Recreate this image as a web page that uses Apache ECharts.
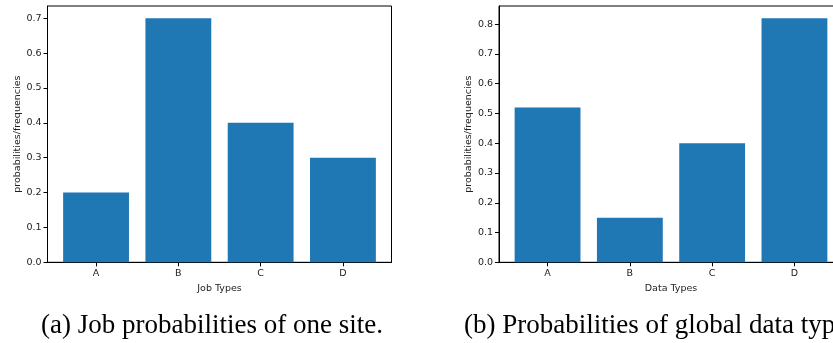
<!DOCTYPE html>
<html>
<head>
<meta charset="utf-8">
<script src="https://cdn.jsdelivr.net/npm/echarts@6/dist/echarts.min.js"></script>
<style>
html,body{margin:0;padding:0;background:#fff;}
#c{width:833px;height:343px;}
</style>
</head>
<body>
<div id="c"></div>
<script>
const categories = ['A', 'B', 'C', 'D'];
const jobValues = [0.2, 0.7, 0.4, 0.3];
const dataValues = [0.52, 0.15, 0.4, 0.82];
const xNames = ['Job Types', 'Data Types'];
const yName = 'probabilities/frequencies';
const captions = ['(a) Job probabilities of one site.', '(b) Probabilities of global data types.'];
const yTicks = [0, 0.1, 0.2, 0.3, 0.4, 0.5, 0.6, 0.7, 0.8];

const chart = echarts.init(document.getElementById('c'), null, {renderer: 'canvas'});
const font = 'DejaVu Sans';
const tickColor = '#000';
const lblColor = '#222';

function xAxisFor(i) {
  return {
    type: 'value', gridIndex: i, min: -0.59, max: 3.59,
    name: xNames[i], nameLocation: 'middle', nameGap: 18,
    nameTextStyle: {fontFamily: font, fontSize: 9.5, color: lblColor},
    axisLine: {show: true, onZero: false, lineStyle: {color: '#000', width: 1}},
    axisTick: {show: true, length: 4, lineStyle: {color: tickColor}, customValues: [0, 1, 2, 3]},
    axisLabel: {fontFamily: font, fontSize: 9.5, color: lblColor, margin: 6, customValues: [0, 1, 2, 3],
      formatter: v => categories[Math.round(v)]},
    splitLine: {show: false}
  };
}
function yAxisFor(i, vals) {
  const mx = Math.max(...vals) * 1.05;
  const ticks = yTicks.filter(t => t <= mx);
  return {
    type: 'value', gridIndex: i, min: 0, max: mx, interval: 0.1,
    name: yName, nameLocation: 'middle', nameGap: 25,
    nameTextStyle: {fontFamily: font, fontSize: 9.5, color: lblColor},
    axisLine: {show: true, onZero: false, lineStyle: {color: '#000', width: 1}},
    axisTick: {show: true, length: 4, lineStyle: {color: tickColor}, customValues: ticks},
    axisLabel: {fontFamily: font, fontSize: 9.5, color: lblColor, margin: 6,
      customValues: ticks, formatter: v => v.toFixed(1)},
    splitLine: {show: false}
  };
}

chart.setOption({
  animation: false,
  backgroundColor: '#fff',
  grid: [
    {left: 47.5, top: 6, width: 344, height: 256.3, show: true, borderColor: '#000', borderWidth: 1,
     containLabel: false, outerBoundsMode: 'none'},
    {left: 499, top: 6, width: 344, height: 256.3, show: true, borderColor: '#000', borderWidth: 1,
     containLabel: false, outerBoundsMode: 'none'}
  ],
  xAxis: [xAxisFor(0), xAxisFor(1)],
  yAxis: [yAxisFor(0, jobValues), yAxisFor(1, dataValues)],
  series: [
    {type: 'bar', xAxisIndex: 0, yAxisIndex: 0, barWidth: '80%',
     itemStyle: {color: '#1f77b4'}, data: jobValues.map((v, i) => [i, v])},
    {type: 'bar', xAxisIndex: 1, yAxisIndex: 1, barWidth: '80%',
     itemStyle: {color: '#1f77b4'}, data: dataValues.map((v, i) => [i, v])}
  ],
  graphic: [
    {type: 'text', x: 41, y: 312, style: {text: captions[0], font: '27px "Liberation Serif"', fill: '#000'}},
    {type: 'text', x: 464, y: 312, style: {text: captions[1], font: '27px "Liberation Serif"', fill: '#000'}}
  ]
});
</script>
</body>
</html>
